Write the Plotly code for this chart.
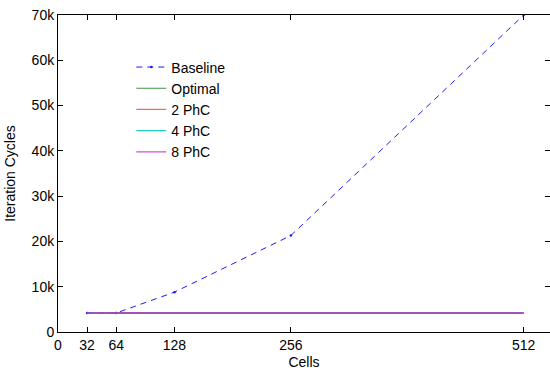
import plotly.graph_objects as go

cells = [32, 64, 128, 256, 512]
baseline = [4200, 4200, 8800, 21300, 70000]
optimal = [4200, 4200, 4200, 4200, 4200]
phc2 = [4200, 4200, 4200, 4200, 4200]
phc4 = [4200, 4200, 4200, 4200, 4200]
phc8 = [4200, 4200, 4200, 4200, 4200]

x_tick_vals = [0, 32, 64, 128, 256, 512]
x_tick_text = ["0", "32", "64", "128", "256", "512"]
y_tick_vals = [0, 10000, 20000, 30000, 40000, 50000, 60000, 70000]
y_tick_text = ["0", "10k", "20k", "30k", "40k", "50k", "60k", "70k"]

FONT = "Liberation Sans, Arial, sans-serif"

fig = go.Figure()
fig.add_trace(go.Scatter(x=cells, y=baseline, name="Baseline", mode="lines+markers",
                         line=dict(color="#1a1aff", width=1, dash="6px,5px"),
                         marker=dict(color="#1a1aff", size=2.5)))
fig.add_trace(go.Scatter(x=cells, y=optimal, name="Optimal", mode="lines",
                         line=dict(color="#3c963c", width=1.2)))
fig.add_trace(go.Scatter(x=cells, y=phc2, name="2 PhC", mode="lines",
                         line=dict(color="#ff6464", width=1.2)))
fig.add_trace(go.Scatter(x=cells, y=phc4, name="4 PhC", mode="lines",
                         line=dict(color="#20cccc", width=1.2)))
fig.add_trace(go.Scatter(x=cells, y=phc8, name="8 PhC", mode="lines",
                         line=dict(color="rgba(200,0,200,0.7)", width=1.4)))

axis_common = dict(showline=True, linecolor="black", linewidth=1, mirror="ticks",
                   ticks="inside", ticklen=5, tickcolor="black", tickwidth=1,
                   showgrid=False, zeroline=False, automargin=False,
                   tickfont=dict(family=FONT, size=14, color="black"))

fig.update_xaxes(range=[0, 540.9], tickvals=x_tick_vals, ticktext=x_tick_text,
                 title=dict(text="Cells", font=dict(family=FONT, size=14, color="black"), standoff=5),
                 **axis_common)
fig.update_yaxes(range=[0, 70000], tickvals=y_tick_vals, ticktext=y_tick_text,
                 title=dict(text="Iteration Cycles", font=dict(family=FONT, size=14, color="black"), standoff=12),
                 **axis_common)

fig.update_layout(
    width=550, height=374,
    margin=dict(l=58, r=0, t=15, b=42),
    paper_bgcolor="white", plot_bgcolor="white",
    font=dict(family=FONT, size=14, color="black"),
    showlegend=True,
    legend=dict(x=0.149, y=0.885, xanchor="left", yanchor="top",
                bgcolor="rgba(0,0,0,0)", borderwidth=0,
                font=dict(family=FONT, size=14, color="black")),
)

fig.write_html("out.html", config={"displayModeBar": False},
               post_script="document.body.style.margin='0';document.body.style.overflow='hidden';")
